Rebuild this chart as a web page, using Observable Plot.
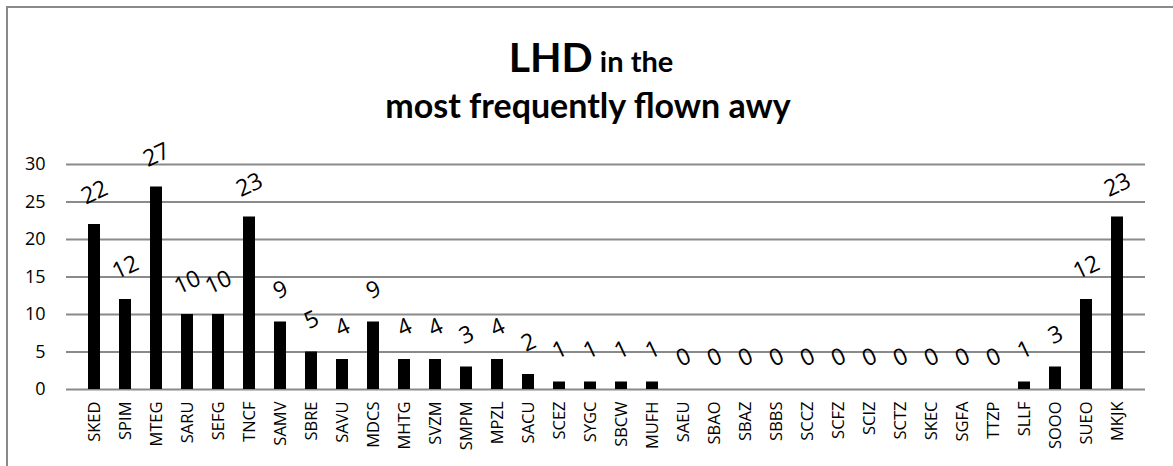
<!DOCTYPE html>
<html>
<head>
<meta charset="utf-8">
<script src="https://cdn.jsdelivr.net/npm/d3@7"></script>
<script src="https://cdn.jsdelivr.net/npm/@observablehq/plot@0.6"></script>
<style>
  html, body { margin: 0; padding: 0; background: #fff; }
  #wrap { position: relative; width: 1173px; height: 466px; overflow: hidden; }
  #frame { position: absolute; left: 6px; top: 6px; width: 1200px; height: 500px;
           border-top: 2px solid #8a8a8a; border-left: 2px solid #8a8a8a; box-sizing: border-box; pointer-events: none; }
  #title { display: block; }
  #chart svg { display: block; }
  #chart g[aria-label="y-axis tick label"] text { font-size: 18px !important; }
  #chart g[aria-label="x-axis tick label"] text { font-size: 16.5px !important; }
</style>
</head>
<body>
<div id="wrap">
  <svg id="title" width="1173" height="130" xmlns="http://www.w3.org/2000/svg">
    <text x="591" y="72" text-anchor="middle" font-family="Lato, 'Open Sans', sans-serif" font-weight="bold" fill="#000"><tspan font-size="41">LHD</tspan><tspan font-size="29"> in the</tspan></text>
    <text x="588" y="118" text-anchor="middle" font-family="Lato, 'Open Sans', sans-serif" font-weight="bold" font-size="34" fill="#000">most frequently flown awy</text>
  </svg>
  <div id="chart"></div>
  <div id="frame"></div>
</div>
<script>
const categories = ["SKED","SPIM","MTEG","SARU","SEFG","TNCF","SAMV","SBRE","SAVU","MDCS","MHTG","SVZM","SMPM","MPZL","SACU","SCEZ","SYGC","SBCW","MUFH","SAEU","SBAO","SBAZ","SBBS","SCCZ","SCFZ","SCIZ","SCTZ","SKEC","SGFA","TTZP","SLLF","SOOO","SUEO","MKJK"];
const values = [22,12,27,10,10,23,9,5,4,9,4,4,3,4,2,1,1,1,1,0,0,0,0,0,0,0,0,0,0,0,1,3,12,23];
const yTicks = [0,5,10,15,20,25,30];

const data = categories.map((c, i) => ({cat: c, v: values[i]}));

const chart = Plot.plot({
  width: 1173,
  height: 336,
  marginLeft: 66,
  marginRight: 28,
  marginTop: 34,
  marginBottom: 77,
  style: {fontFamily: "'Open Sans', sans-serif", fontSize: "16px", background: "transparent"},
  x: {domain: categories, paddingInner: 0.6, paddingOuter: 0.3, label: null},
  y: {domain: [0, 30], label: null},
  marks: [
    Plot.ruleY(yTicks, {stroke: "#8a8a8a", strokeWidth: 2, strokeOpacity: 1}),
    Plot.barY(data, {x: "cat", y: "v", fill: "#000"}),
    Plot.text(data, {x: "cat", y: "v", text: d => String(d.v), dy: -32, rotate: -25,
      fontSize: 23, fill: "#000", textAnchor: "middle", lineAnchor: "middle"}),
    Plot.axisY({ticks: yTicks, tickSize: 0, tickPadding: 21, fontSize: 18, fill: "#000", label: null}),
    Plot.axisX({tickSize: 0, tickPadding: 12, tickRotate: -90, fontSize: 16.5, fill: "#000", label: null})
  ]
});
document.getElementById("chart").appendChild(chart);
</script>
</body>
</html>
